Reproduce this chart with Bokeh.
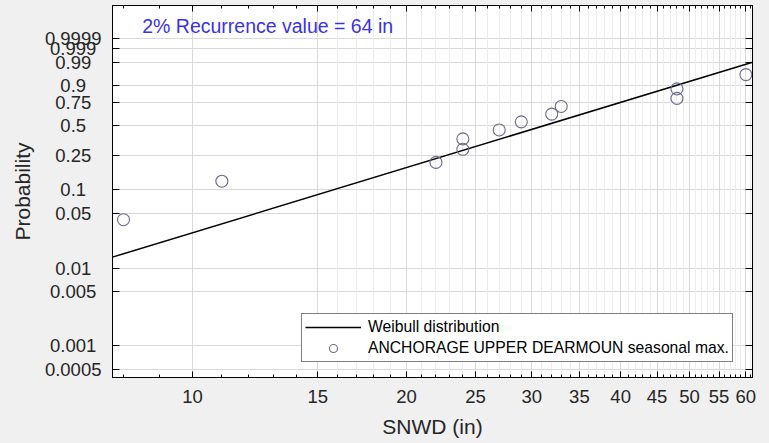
import math
from bokeh.plotting import figure
from bokeh.models import (FixedTicker, LinearAxis, LogAxis, Grid, Label, Legend,
                          LegendItem, Range1d, CustomJSTickFormatter)
from bokeh.embed import file_html
from bokeh.resources import INLINE

# ---------------- data ----------------
snwd = [8, 11, 22, 24, 24, 27, 29, 32, 33, 48, 48, 60]
prob = [0.0417, 0.125, 0.2083, 0.2917, 0.375, 0.4583, 0.5417,
        0.625, 0.7083, 0.7917, 0.875, 0.9583]
fit_snwd = [7.72, 61.3]
fit_prob = [0.0139, 0.9899]
x_ticks = [10, 15, 20, 25, 30, 35, 40, 45, 50, 55, 60]
p_ticks = [0.0005, 0.001, 0.005, 0.01, 0.05, 0.1, 0.25, 0.5, 0.75, 0.9,
           0.99, 0.999, 0.9999]
p_tick_labels = ["0.0005", "0.001", "0.005", "0.01", "0.05", "0.1", "0.25",
                 "0.5", "0.75", "0.9", "0.99", "0.999", "0.9999"]
x_lo, x_hi = 7.72, 61.3
w_lo, w_hi = -7.847, 3.21
annotation = "2% Recurrence value = 64 in"
series_line = "Weibull distribution"
series_pts = "ANCHORAGE UPPER DEARMOUN seasonal max."


def wb(pv):
    """Weibull probability-paper transform."""
    return math.log(-math.log(1.0 - pv))


FONT = "Liberation Sans"
TXT = "#262626"
NBSP = "\u00a0"

p = figure(width=769, height=443, x_axis_type="log",
           x_range=Range1d(x_lo, x_hi), y_range=Range1d(w_lo, w_hi),
           output_backend="svg", toolbar_location=None,
           min_border_left=112, min_border_right=17, min_border_top=5,
           min_border_bottom=66, background_fill_color="white",
           border_fill_color="#f0f0f0", outline_line_color="black",
           outline_line_width=1)

xticker = FixedTicker(ticks=x_ticks, minor_ticks=list(range(8, 62)))
yticker = FixedTicker(ticks=[wb(v) for v in p_ticks], minor_ticks=[])
blank = CustomJSTickFormatter(code="return ''")

# bottom axis
xa = p.xaxis[0]
xa.ticker = xticker
xa.axis_label = "SNWD (in)"
xa.axis_label_text_font = FONT
xa.axis_label_text_font_size = "21px"
xa.axis_label_text_font_style = "normal"
xa.axis_label_text_color = TXT
xa.axis_label_standoff = 9
xa.major_label_text_font = FONT
xa.major_label_text_font_size = "18.5px"
xa.major_label_text_color = TXT
xa.major_label_standoff = 12
xa.major_tick_in = 6
xa.major_tick_out = 0
xa.minor_tick_in = 3
xa.minor_tick_out = 0
xa.axis_line_color = "black"

# left axis: labels visually centred (pad shorter labels on the right)
maxlen = max(len(s) for s in p_tick_labels)
ya = p.yaxis[0]
ya.ticker = yticker
ya.major_label_overrides = {wb(v): s + NBSP * (maxlen - len(s))
                            for v, s in zip(p_ticks, p_tick_labels)}
ya.major_label_text_font = FONT
ya.major_label_text_font_size = "18.5px"
ya.major_label_text_color = TXT
ya.major_label_standoff = 11
ya.major_tick_in = 7
ya.major_tick_out = 0
ya.minor_tick_in = 0
ya.minor_tick_out = 0
ya.axis_line_color = "black"
ya.axis_label = "Probability"
ya.axis_label_text_font = FONT
ya.axis_label_text_font_size = "21px"
ya.axis_label_text_font_style = "normal"
ya.axis_label_text_color = TXT
ya.axis_label_standoff = 8

# top and right axes (ticks only)
top = LogAxis(ticker=xticker, formatter=blank, major_tick_in=6, major_tick_out=0,
              minor_tick_in=3, minor_tick_out=0, major_label_standoff=0,
              axis_line_color="black")
right = LinearAxis(ticker=yticker, formatter=blank, major_tick_in=7,
                   major_tick_out=0, minor_tick_in=0, minor_tick_out=0,
                   major_label_standoff=0, axis_line_color="black")
p.add_layout(top, "above")
p.add_layout(right, "right")

# grids
p.xgrid.ticker = FixedTicker(ticks=x_ticks)
p.xgrid.grid_line_color = "#d9d9d9"
p.ygrid.ticker = yticker
p.ygrid.grid_line_color = "#d9d9d9"
minor_grid = Grid(dimension=0,
                  ticker=FixedTicker(ticks=[v for v in range(16, 62) if v not in x_ticks]),
                  grid_line_color="#ececec")
p.add_layout(minor_grid)

# glyphs
r_line = p.line(fit_snwd, [wb(v) for v in fit_prob], line_color="black",
                line_width=1.5)
r_pts = p.scatter(snwd, [wb(v) for v in prob], marker="circle", size=12,
                  fill_color=None, line_color="#6a6a8c", line_width=1.1)

p.add_layout(Label(x=29.7, y=352, x_units="screen", y_units="screen",
                   text=annotation, text_align="left", text_baseline="middle",
                   text_font=FONT, text_font_size="19.5px",
                   text_color="#3a32e6"))

legend = Legend(items=[LegendItem(label=series_line, renderers=[r_line]),
                       LegendItem(label=series_pts, renderers=[r_pts])],
                location=(189, 15), orientation="vertical",
                label_text_font=FONT, label_text_font_size="15.7px",
                label_text_color="black", glyph_width=56, glyph_height=20,
                label_height=20, label_standoff=7, padding=3, spacing=1,
                margin=0, border_line_color="black", border_line_width=1,
                background_fill_color="white", background_fill_alpha=1)
p.add_layout(legend)

html = file_html(p, INLINE)
html = html.replace("</head>",
                    "<style>html,body{margin:0;padding:0;background:#f0f0f0;overflow:hidden}</style></head>", 1)
open("out.html", "w").write(html)
